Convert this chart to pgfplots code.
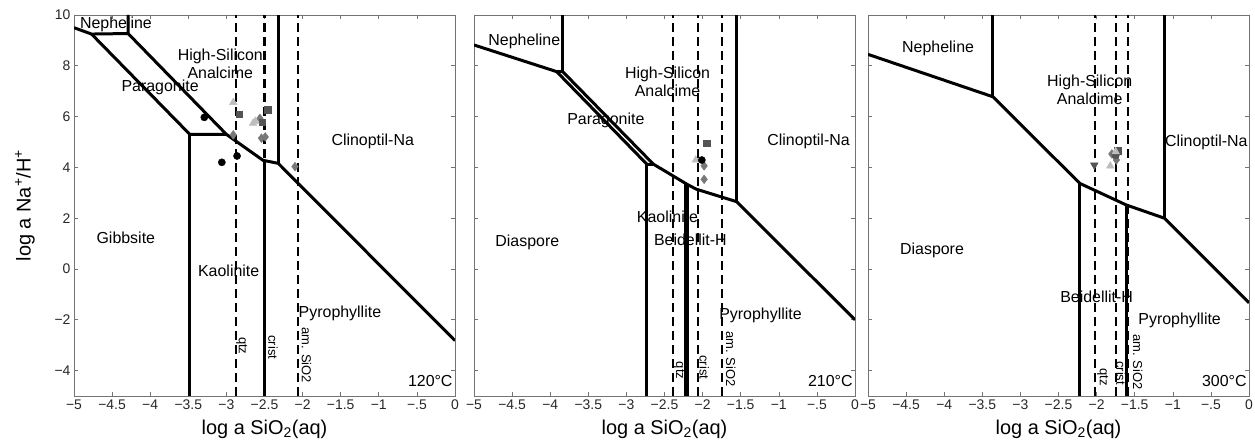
\documentclass[border=0pt]{standalone}
\usepackage{fontspec}
\setmainfont{Liberation Sans}
\usepackage{pgfplots}
\pgfplotsset{compat=1.18}

\definecolor{mkdark}{gray}{0.33}
\definecolor{mkmid}{gray}{0.47}
\definecolor{mklight}{gray}{0.74}
\definecolor{axgray}{gray}{0.45}

\tikzset{
 lbl/.style={font=\fontsize{16}{18}\selectfont, inner sep=0pt, align=center},
 rlb/.style={font=\fontsize{13}{15}\selectfont, inner sep=0pt, rotate=-90},
}

\pgfplotsset{
 panel/.style={
  scale only axis, width=381bp, height=381bp,
  anchor=south west,
  xmin=-5,xmax=0,ymin=-5,ymax=10,
  xtick={-5,-4.5,-4,-3.5,-3,-2.5,-2,-1.5,-1,-0.5,0},
  xticklabels={−5,−4.5,−4,−3.5,−3,−2.5,−2,−1.5,−1,−.5,0},
  ytick={-4,-2,0,2,4,6,8,10},
  yticklabels={−4,−2,0,2,4,6,8,10},
  /pgf/number format/assume math mode=true,
  tick align=inside, major tick length=4bp,
  axis line style={axgray, line width=0.6bp},
  tick style={axgray, line width=0.6bp},
  xticklabel style={font=\fontsize{14}{16}\selectfont, text=black!85},
  yticklabel style={font=\fontsize{14}{16}\selectfont, text=black!85},
  xlabel={log a SiO\textsubscript{2}(aq)},
  xlabel style={font=\fontsize{20}{22}\selectfont, at={(axis description cs:0.5,-0.102)}, anchor=base},
  clip=true,
 },
 bnd/.style={black, line width=3bp, no markers, line join=round},
 thk/.style={black, line width=5bp, no markers},
 dsh/.style={black, line width=2.2bp, no markers, dash pattern=on 9bp off 5bp},
 mcirc/.style={only marks, mark=*, mark size=3.6bp, mark options={fill=black, draw=black}},
 msq/.style={only marks, mark=square*, mark size=3.3bp, mark options={fill=mkdark, draw=mkdark}},
 mdia/.style={only marks, mark=diamond*, mark size=4.4bp, mark options={fill=mkmid, draw=mkmid}},
 mtri/.style={only marks, mark=triangle*, mark size=4.4bp, mark options={fill=mklight, draw=mklight}},
 mdtri/.style={only marks, mark=triangle*, mark size=4.4bp, mark options={fill=mkdark, draw=mkdark, rotate=180}},
 mpent/.style={only marks, mark=pentagon*, mark size=4.4bp, mark options={fill=mkdark, draw=mkdark}},
}

\begin{document}
\begin{tikzpicture}
\useasboundingbox (0,0) rectangle (1255bp,441bp);

% ---------------- Panel 1: 120 C ----------------
\begin{axis}[panel, at={(74bp,45bp)},
  ylabel={log a Na\textsuperscript{+}/H\textsuperscript{+}},
  ylabel style={font=\fontsize{20}{22}\selectfont, at={(axis description cs:-0.129,0.5)}, anchor=center}]
\addplot[dsh] coordinates {(-2.87,-5) (-2.87,10)};
\addplot[dsh] coordinates {(-2.50,-5) (-2.50,10)};
\addplot[dsh] coordinates {(-2.06,-5) (-2.06,10)};
\addplot[bnd] coordinates {(-5,9.50) (-4.77,9.25) (-4.29,9.27) (-4.29,10)};
\addplot[bnd] coordinates {(-4.29,9.27) (-3.00,5.30) (-2.52,4.28) (-2.32,4.16) (0,-2.82)};
\addplot[bnd] coordinates {(-4.77,9.25) (-3.48,5.30) (-3.00,5.30)};
\addplot[bnd] coordinates {(-3.48,5.30) (-3.48,-5)};
\addplot[bnd] coordinates {(-2.50,4.27) (-2.50,-5)};
\addplot[bnd] coordinates {(-2.32,4.16) (-2.32,10)};
\node[lbl] at (axis cs:-4.45,9.62) {Nepheline};
\node[lbl] at (axis cs:-3.08,8.09) {High-Silicon\\Analcime};
\node[lbl] at (axis cs:-3.87,7.17) {Paragonite};
\node[lbl] at (axis cs:-1.08,5.02) {Clinoptil-Na};
\node[lbl] at (axis cs:-4.32,1.22) {Gibbsite};
\node[lbl] at (axis cs:-2.97,-0.08) {Kaolinite};
\node[lbl] at (axis cs:-1.51,-1.75) {Pyrophyllite};
\node[rlb] at (axis cs:-2.80,-3.02) {qtz};
\node[rlb] at (axis cs:-2.39,-3.08) {crist};
\node[rlb] at (axis cs:-1.95,-3.40) {am. SiO2};
\node[lbl, anchor=east] at (axis cs:-0.03,-4.42) {120°C};
\addplot[mdia] coordinates {(-2.91,5.28) (-2.56,5.93) (-2.54,5.15) (-2.49,5.20) (-2.10,4.03)};
\addplot[msq] coordinates {(-2.83,6.09) (-2.53,5.78) (-2.46,6.26)};
\addplot[mtri] coordinates {(-2.91,6.56) (-2.65,5.74) (-2.62,5.82)};
\addplot[mcirc] coordinates {(-3.29,5.97) (-3.06,4.20) (-2.86,4.45)};
\end{axis}

% ---------------- Panel 2: 210 C ----------------
\begin{axis}[panel, at={(474bp,45bp)}, yticklabels={}]
\addplot[dsh] coordinates {(-2.39,-5) (-2.39,10)};
\addplot[dsh] coordinates {(-2.06,-5) (-2.06,10)};
\addplot[dsh] coordinates {(-1.75,-5) (-1.75,10)};
\addplot[bnd] coordinates {(-5,8.82) (-3.915,7.77) (-2.733,4.13)};
\addplot[bnd] coordinates {(-3.915,7.77) (-3.836,7.77) (-3.836,10)};
\addplot[bnd] coordinates {(-3.836,7.77) (-2.647,4.13) (-2.19,3.31) (-2.08,3.14) (-1.553,2.65) (0,-2.0)};
\addplot[bnd] coordinates {(-2.733,4.13) (-2.647,4.13)};
\addplot[bnd] coordinates {(-2.73,4.13) (-2.73,-5)};
\addplot[thk] coordinates {(-2.21,3.33) (-2.21,-5)};
\addplot[bnd] coordinates {(-1.553,2.65) (-1.553,10)};
\node[lbl] at (axis cs:-4.34,8.97) {Nepheline};
\node[lbl] at (axis cs:-2.46,7.37) {High-Silicon\\Analcime};
\node[lbl] at (axis cs:-3.27,5.86) {Paragonite};
\node[lbl] at (axis cs:-0.61,5.02) {Clinoptil-Na};
\node[lbl] at (axis cs:-4.30,1.06) {Diaspore};
\node[lbl] at (axis cs:-2.46,2.06) {Kaolinite};
\node[lbl] at (axis cs:-2.16,1.13) {Beidellit-H};
\node[lbl] at (axis cs:-1.24,-1.82) {Pyrophyllite};
\node[rlb] at (axis cs:-2.31,-4.00) {qtz};
\node[rlb] at (axis cs:-1.98,-3.87) {crist};
\node[rlb] at (axis cs:-1.63,-3.54) {am. SiO2};
\node[lbl, anchor=east] at (axis cs:-0.03,-4.42) {210°C};
\addplot[mdia] coordinates {(-1.98,4.06) (-1.98,3.53)};
\addplot[msq] coordinates {(-1.95,4.95)};
\addplot[mtri] coordinates {(-2.09,4.29)};
\addplot[mcirc] coordinates {(-2.01,4.29)};
\end{axis}

% ---------------- Panel 3: 300 C ----------------
\begin{axis}[panel, at={(868bp,45bp)}, yticklabels={}]
\addplot[dsh] coordinates {(-2.02,-5) (-2.02,10)};
\addplot[dsh] coordinates {(-1.75,-5) (-1.75,10)};
\addplot[dsh] coordinates {(-1.59,-5) (-1.59,10)};
\addplot[bnd] coordinates {(-5,8.45) (-3.36,6.78) (-2.22,3.37) (-1.61,2.52) (-1.11,2.0) (0,-1.33)};
\addplot[bnd] coordinates {(-3.36,6.78) (-3.36,10)};
\addplot[bnd] coordinates {(-2.22,3.37) (-2.22,-5)};
\addplot[bnd] coordinates {(-1.61,2.52) (-1.61,-5)};
\addplot[bnd] coordinates {(-1.11,2.0) (-1.11,10)};
\node[lbl] at (axis cs:-4.08,8.68) {Nepheline};
\node[lbl] at (axis cs:-2.09,7.04) {High-Silicon\\Analcime};
\node[lbl] at (axis cs:-0.56,5.00) {Clinoptil-Na};
\node[lbl] at (axis cs:-4.16,0.75) {Diaspore};
\node[lbl] at (axis cs:-2.00,-1.10) {Beidellit-H};
\node[lbl] at (axis cs:-0.91,-2.02) {Pyrophyllite};
\node[rlb] at (axis cs:-1.92,-4.26) {qtz};
\node[rlb] at (axis cs:-1.68,-4.10) {crist};
\node[rlb] at (axis cs:-1.46,-3.65) {am. SiO2};
\node[lbl, anchor=east] at (axis cs:-0.03,-4.42) {300°C};
\addplot[mdtri] coordinates {(-2.03,4.09)};
\addplot[mtri] coordinates {(-1.82,4.06)};
\addplot[mdia] coordinates {(-1.80,4.53) (-1.74,4.29)};
\addplot[msq] coordinates {(-1.72,4.66)};
\addplot[mpent] coordinates {(-1.75,4.49)};
\addplot[mtri] coordinates {(-1.75,4.62)};
\end{axis}
\end{tikzpicture}
\end{document}
